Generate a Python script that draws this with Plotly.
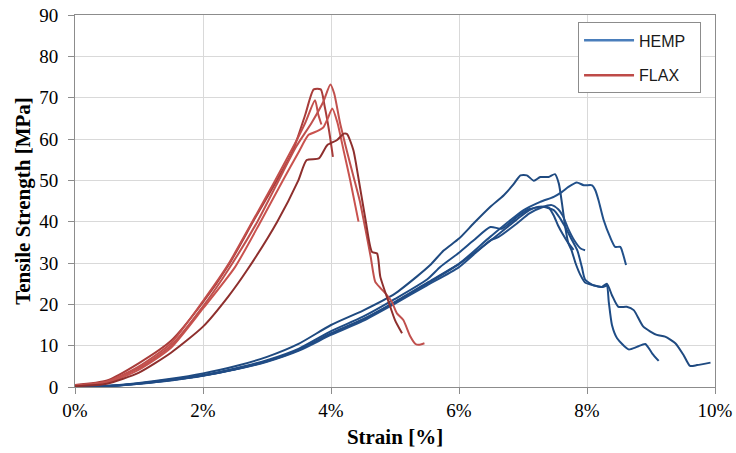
import plotly.graph_objects as go

# ---------------- data (strain in %, stress in MPa) ----------------
hemp_1_strain = [0, 0.5, 1, 1.5, 2, 2.5, 3, 3.5, 4, 4.5, 5, 5.34, 5.55, 5.76, 6, 6.23, 6.49, 6.7, 6.85, 6.96, 7.06, 7.17, 7.27, 7.4, 7.5, 7.56, 7.61, 7.66, 7.71, 7.76, 7.82, 7.9, 7.97, 8.08, 8.23, 8.31, 8.39, 8.49, 8.62, 8.73, 8.88, 9.09, 9.22, 9.38, 9.51, 9.61, 9.72, 9.93]
hemp_1_stress = [0, 0.3, 1.0, 2.0, 3.3, 5.0, 7.3, 10.5, 15.0, 18.5, 22.6, 26.7, 29.5, 33.0, 35.9, 39.6, 43.6, 46.4, 49.0, 51.2, 51.2, 49.9, 50.8, 50.8, 51.5, 49.2, 44.3, 38.7, 34.7, 33.0, 30.0, 27.0, 25.3, 24.7, 24.2, 25.0, 22.2, 19.4, 19.4, 18.6, 14.6, 12.6, 12.2, 10.6, 7.7, 5.1, 5.3, 5.9]

hemp_2_strain = [0, 0.5, 1, 1.5, 2, 2.5, 3, 3.5, 4, 4.5, 5, 5.5, 6, 6.5, 7.01, 7.27, 7.48, 7.61, 7.71, 7.84, 7.95, 8.08, 8.13, 8.18, 8.26, 8.36, 8.44, 8.52, 8.56, 8.61]
hemp_2_stress = [0, 0.2, 0.8, 1.7, 2.8, 4.3, 6.2, 9.0, 12.8, 16.3, 20.5, 25.0, 29.8, 36.5, 42.8, 44.8, 46.0, 47.2, 48.4, 49.5, 48.8, 48.8, 47.6, 45.2, 40.4, 36.3, 33.9, 33.9, 32.3, 29.5]

hemp_3_strain = [0, 0.5, 1, 1.5, 2, 2.5, 3, 3.5, 4, 4.5, 5, 5.5, 5.71, 6, 6.23, 6.49, 6.67, 6.91, 7.09, 7.3, 7.48, 7.58, 7.66, 7.75, 7.85, 7.92, 7.97, 8.1, 8.25, 8.31, 8.34, 8.39, 8.47, 8.65, 8.78, 8.91, 9.02, 9.12]
hemp_3_stress = [0, 0.25, 0.85, 1.8, 2.9, 4.5, 6.5, 9.3, 13.5, 17.0, 21.3, 26.0, 29.1, 32.5, 35.5, 38.7, 38.3, 41.2, 43.0, 43.6, 42.8, 40.8, 38.7, 36.0, 33.0, 29.0, 26.0, 24.6, 24.2, 24.5, 20.6, 15.0, 11.8, 9.1, 9.7, 10.4, 8.1, 6.3]

hemp_4_strain = [0, 0.5, 1, 1.5, 2, 2.5, 3, 3.5, 4, 4.5, 5, 5.5, 6, 6.49, 6.62, 6.9, 7.1, 7.3, 7.45, 7.55, 7.62, 7.7, 7.8, 7.9, 7.97]
hemp_4_stress = [0, 0.2, 0.8, 1.6, 2.7, 4.2, 6.1, 8.8, 12.6, 16.0, 20.2, 24.6, 29.0, 35.5, 36.3, 39.5, 42.0, 43.5, 44.0, 43.0, 41.5, 38.5, 35.5, 33.5, 33.1]

hemp_5_strain = [0, 0.5, 1, 1.5, 2, 2.5, 3, 3.5, 4, 4.5, 5, 5.5, 6, 6.5, 6.9, 7.1, 7.25, 7.4, 7.48, 7.55, 7.62, 7.7, 7.79]
hemp_5_stress = [0, 0.22, 0.85, 1.7, 2.8, 4.3, 6.3, 9.0, 13.0, 16.4, 20.6, 25.2, 29.8, 35.5, 40.5, 42.8, 43.6, 43.4, 41.5, 39.0, 37.0, 35.0, 33.2]

flax_1_strain = [0, 0.5, 1, 1.5, 2, 2.4, 2.8, 3.1, 3.4, 3.6, 3.73, 3.84, 3.9, 3.97, 4.03]
flax_1_stress = [0.5, 1.6, 5.8, 11.2, 20.5, 29.5, 40.5, 48.5, 57.0, 66.0, 72.0, 72.0, 68.0, 62.0, 55.7]

flax_2_strain = [0, 0.5, 1, 1.5, 2, 2.4, 2.8, 3.1, 3.4, 3.6, 3.75, 3.8, 3.85]
flax_2_stress = [0.4, 1.3, 5.0, 10.6, 20.8, 29.8, 40.8, 49.2, 57.8, 64.0, 69.4, 66.0, 63.5]

flax_3_strain = [0, 0.5, 1, 1.5, 2, 2.5, 2.9, 3.25, 3.5, 3.65, 3.8, 3.88, 3.95, 4.02, 4.1, 4.2, 4.3, 4.43]
flax_3_stress = [0.3, 1.0, 4.2, 9.5, 19.0, 29.0, 40.0, 50.0, 57.0, 61.0, 62.0, 62.8, 65.0, 67.4, 64.0, 57.0, 50.0, 40.0]

flax_4_strain = [0, 0.5, 1, 1.5, 2, 2.4, 2.85, 3.15, 3.45, 3.7, 3.88, 3.99, 4.05, 4.14, 4.25, 4.35, 4.45, 4.54, 4.62, 4.69, 4.77, 4.87, 4.95, 5.03, 5.13, 5.24, 5.32, 5.37, 5.46]
flax_4_stress = [0.4, 1.3, 4.6, 10.0, 19.5, 28.5, 40.0, 49.0, 58.0, 64.0, 69.0, 73.2, 71.0, 64.0, 57.0, 51.0, 45.0, 38.0, 31.5, 25.5, 24.0, 22.3, 20.6, 17.8, 16.2, 12.2, 10.4, 10.2, 10.6]

flax_5_strain = [0, 0.5, 1, 1.5, 2, 2.4, 2.69, 3.16, 3.49, 3.62, 3.81, 3.94, 4.09, 4.2, 4.25, 4.35, 4.4, 4.54, 4.64, 4.72, 4.77, 4.9, 5.0, 5.11]
flax_5_stress = [0.2, 0.8, 3.5, 8.3, 14.6, 22.0, 28.3, 40.0, 50.0, 54.9, 55.3, 58.5, 59.7, 61.3, 61.2, 57.3, 53.2, 40.4, 32.7, 32.3, 26.7, 20.6, 16.2, 13.0]

x_tick_vals = [0, 2, 4, 6, 8, 10]
x_tick_text = ["0%", "2%", "4%", "6%", "8%", "10%"]
y_tick_vals = [0, 10, 20, 30, 40, 50, 60, 70, 80, 90]
y_tick_text = ["0", "10", "20", "30", "40", "50", "60", "70", "80", "90"]

hemp_series = [(hemp_1_strain, hemp_1_stress), (hemp_2_strain, hemp_2_stress),
               (hemp_3_strain, hemp_3_stress), (hemp_4_strain, hemp_4_stress),
               (hemp_5_strain, hemp_5_stress)]
flax_series = [(flax_1_strain, flax_1_stress), (flax_2_strain, flax_2_stress),
               (flax_3_strain, flax_3_stress), (flax_4_strain, flax_4_stress),
               (flax_5_strain, flax_5_stress)]

hemp_colors = ["#1F4A80", "#21508A", "#1E4C86", "#234F88", "#204B84"]
flax_colors = ["#A83C3A", "#C24E4B", "#C9524E", "#C0504D", "#8E2F2D"]

fig = go.Figure()

for (xs, ys), c in zip(hemp_series, hemp_colors):
    fig.add_trace(go.Scatter(x=xs, y=ys, mode="lines",
                             line=dict(color=c, width=2, shape="spline", smoothing=0.6),
                             showlegend=False, hoverinfo="skip"))
for (xs, ys), c in zip(flax_series, flax_colors):
    fig.add_trace(go.Scatter(x=xs, y=ys, mode="lines",
                             line=dict(color=c, width=2, shape="spline", smoothing=0.6),
                             showlegend=False, hoverinfo="skip"))

# legend entries
fig.add_trace(go.Scatter(x=[None], y=[None], mode="lines", name="HEMP\u00a0\u00a0",
                         line=dict(color="#4A7EBB", width=2.5), legendgroup="h"))
fig.add_trace(go.Scatter(x=[None], y=[None], mode="lines", name="FLAX\u00a0\u00a0",
                         line=dict(color="#BE4B48", width=2.5), legendgroup="f"))

serif = "Liberation Serif"
axis_font = dict(family=serif, size=19, color="#000000")
title_font = dict(family=serif, size=21, color="#000000")

fig.update_layout(
    template="none",
    width=736, height=453,
    margin=dict(l=75, r=21, t=15, b=66),
    paper_bgcolor="white", plot_bgcolor="white",
    font=dict(family=serif, size=19, color="#000000"),
    showlegend=True,
    legend=dict(x=0.786, y=0.98, xanchor="left", yanchor="top",
                bordercolor="#8C8C8C", borderwidth=1, bgcolor="white",
                font=dict(family="Liberation Sans", size=16, color="#1A1A1A"),
                tracegroupgap=11, traceorder="grouped", itemwidth=50),
    xaxis=dict(range=[0, 10], tickmode="array", tickvals=x_tick_vals, ticktext=x_tick_text,
               automargin=False,
               showgrid=True, gridcolor="#D9D9D9", gridwidth=1,
               showline=True, linecolor="#8C8C8C", linewidth=1, mirror=True,
               ticks="outside", ticklen=6, tickcolor="#8C8C8C",
               tickfont=axis_font, zeroline=False,
               title=dict(text="<b>Strain [%]</b>", font=title_font, standoff=9)),
    yaxis=dict(range=[0, 90], tickmode="array", tickvals=y_tick_vals, ticktext=y_tick_text,
               automargin=False, ticklabelstandoff=6,
               showgrid=True, gridcolor="#D9D9D9", gridwidth=1,
               showline=True, linecolor="#8C8C8C", linewidth=1, mirror=True,
               ticks="outside", ticklen=6, tickcolor="#8C8C8C",
               tickfont=axis_font, zeroline=False,
               title=dict(text="<b>Tensile Strength [MPa]</b>", font=title_font, standoff=2)),
)

fig.write_html("out.html")
